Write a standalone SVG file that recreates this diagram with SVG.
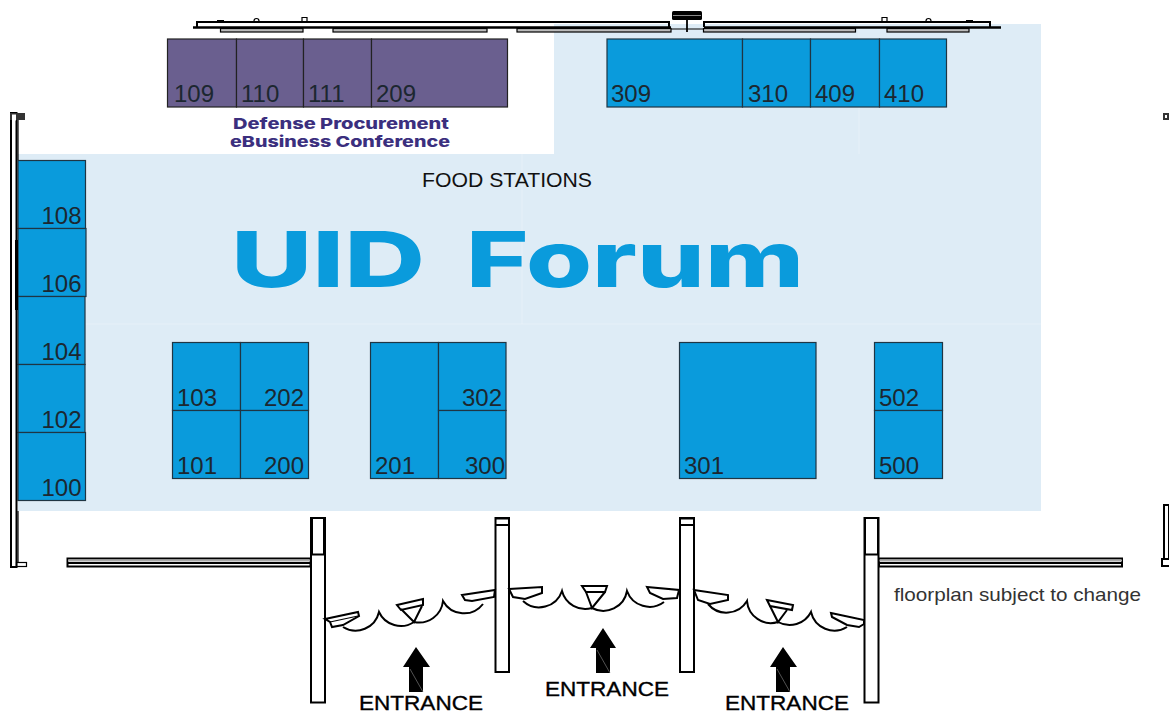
<svg xmlns="http://www.w3.org/2000/svg" width="1169" height="714" viewBox="0 0 1169 714">
<style>
text{font-family:"Liberation Sans",Arial,sans-serif}
.bg{fill:#deecf6}
.b{fill:#0a9bdc;stroke:#1f3543;stroke-width:1.200}
.p{fill:#6a5f8f;stroke:#222;stroke-width:1.200}
.n{font-size:24px;fill:#1c2730}
.w{fill:#fff;stroke:#000;stroke-width:2}
.l{fill:none;stroke:#000;stroke-width:2}
.t{fill:none;stroke:#000;stroke-width:1.200}
.g{fill:#bbb;stroke:#000;stroke-width:1.200}
.e{font-size:21px;fill:#000;stroke:#000;stroke-width:.35}
.d{font-family:Inter,"DejaVu Sans",sans-serif;font-weight:800;font-size:15px;fill:#3b2f7e}
.u{font-family:Inter,"DejaVu Sans",sans-serif;font-weight:800;font-size:77px;fill:#0a9bdc}
.a{fill:#000}
.s{stroke:#777;stroke-width:.7;fill:none}
</style>
<g id="floor">
<rect class="bg" x="554" y="24" width="487" height="131"/>
<rect class="bg" x="18" y="154" width="1023" height="357"/>
<path d="M18 324H1041M859 24V154M522 154V324" fill="none" stroke="#fff" stroke-opacity=".25"/>
</g>
<g id="booth-109"><rect class="p" x="167.500" y="39" width="69" height="68"/><text class="n" x="174" y="102">109</text></g>
<g id="booth-110"><rect class="p" x="236.500" y="39" width="67" height="68"/><text class="n" x="241" y="102">110</text></g>
<g id="booth-111"><rect class="p" x="303.500" y="39" width="68" height="68"/><text class="n" x="308" y="102">111</text></g>
<g id="booth-209"><rect class="p" x="371.500" y="39" width="136" height="68"/><text class="n" x="376" y="102">209</text></g>
<g id="booth-309"><rect class="b" x="607" y="39" width="135.500" height="68"/><text class="n" x="611" y="102">309</text></g>
<g id="booth-310"><rect class="b" x="742.500" y="39" width="68" height="68"/><text class="n" x="748" y="102">310</text></g>
<g id="booth-409"><rect class="b" x="810.500" y="39" width="69" height="68"/><text class="n" x="815" y="102">409</text></g>
<g id="booth-410"><rect class="b" x="879.500" y="39" width="67" height="68"/><text class="n" x="884" y="102">410</text></g>
<g id="booth-108"><rect class="b" x="18" y="160.500" width="67.500" height="68"/><text class="n" x="41.500" y="224">108</text></g>
<g id="booth-106"><rect class="b" x="18" y="228.500" width="68" height="68"/><text class="n" x="41.500" y="292">106</text></g>
<g id="booth-104"><rect class="b" x="18" y="296.500" width="67" height="68"/><text class="n" x="41.500" y="360">104</text></g>
<g id="booth-102"><rect class="b" x="18" y="364.500" width="67" height="68"/><text class="n" x="41.500" y="428">102</text></g>
<g id="booth-100"><rect class="b" x="18" y="432.500" width="67.500" height="68"/><text class="n" x="41.500" y="496">100</text></g>
<g id="booth-103"><rect class="b" x="172.500" y="342.500" width="68" height="68"/><text class="n" x="177" y="405.500">103</text></g>
<g id="booth-202"><rect class="b" x="240.500" y="342.500" width="68" height="68"/><text class="n" x="264" y="405.500">202</text></g>
<g id="booth-101"><rect class="b" x="172.500" y="410.500" width="68" height="68"/><text class="n" x="177" y="473.500">101</text></g>
<g id="booth-200"><rect class="b" x="240.500" y="410.500" width="68" height="68"/><text class="n" x="264" y="473.500">200</text></g>
<g id="booth-201"><rect class="b" x="370.500" y="342.500" width="68" height="136"/><text class="n" x="375" y="473.500">201</text></g>
<g id="booth-302"><rect class="b" x="438.500" y="342.500" width="67.500" height="68"/><text class="n" x="462" y="405.500">302</text></g>
<g id="booth-300"><rect class="b" x="438.500" y="410.500" width="67.500" height="68"/><text class="n" x="465" y="473.500">300</text></g>
<g id="booth-301"><rect class="b" x="679.500" y="342.500" width="136.500" height="136"/><text class="n" x="684" y="473.500">301</text></g>
<g id="booth-502"><rect class="b" x="874.500" y="342.500" width="68" height="68"/><text class="n" x="879" y="405.500">502</text></g>
<g id="booth-500"><rect class="b" x="874.500" y="410.500" width="68" height="68"/><text class="n" x="879" y="473.500">500</text></g>
<g id="walls">
<path class="l" d="M197 27V22H669V27M704 27V22H990V27"/>
<path d="M193 27.500H671M704 27.500H1001" stroke="#000" stroke-width="2.500"/>
<rect class="g" x="220.500" y="28.500" width="82.500" height="3.500"/>
<rect class="g" x="333" y="28.500" width="154" height="3.500"/>
<rect class="g" x="517" y="28.500" width="154" height="3.500"/>
<rect class="g" x="703.500" y="28.500" width="152" height="3.500"/>
<rect class="g" x="887" y="28.500" width="82" height="3.500"/>
<path class="t" d="M254 21a2.500 2.500 0 1 1 5 0M302 21V17.500H307V21M882 21V17.500H887V21M926 21a2.500 2.500 0 1 1 5 0M217 20.500H224M966 20.500H973"/>
<rect x="672" y="11" width="30" height="9" rx="1.500" fill="#000"/>
<path d="M673 15.500H701" stroke="#888" stroke-width="1"/>
<path d="M671 29H704" stroke="#000" stroke-width="1"/>
<path d="M687 19V32" stroke="#000" stroke-width="1.800"/>
<rect class="w" x="11" y="113" width="5.500" height="454" stroke-width="1.800"/>
<path d="M16.500 240V310" stroke="#000" stroke-width="3"/>
<rect x="10" y="113" width="15" height="7" fill="#333"/>
<rect x="12" y="114.500" width="4" height="6" fill="#fff"/>
<path class="t" d="M18 120V160M18 511V563"/>
<rect class="t" x="16.500" y="562.500" width="10" height="4"/>
<rect class="w" x="67.500" y="558.500" width="243" height="8" stroke-width="1.800"/>
<path d="M68 560.500H310" stroke="#aaa" stroke-width="2"/>
<path d="M68 563H310" stroke="#000" stroke-width="1.800"/>
<rect class="w" x="879" y="558.500" width="243" height="8" stroke-width="1.800"/>
<path d="M879 560.500H1122" stroke="#aaa" stroke-width="2"/>
<path d="M879 563H1122" stroke="#000" stroke-width="1.800"/>
<rect x="1163" y="113" width="6" height="7" fill="#333"/>
<rect x="1165" y="115" width="2" height="3" fill="#fff"/>
<rect class="w" x="1164" y="505" width="5" height="54" stroke-width="2.200"/>
<rect class="w" x="1162" y="559" width="8" height="7" stroke-width="1.800"/>
</g>
<g id="labels">
<text class="d" x="233" y="129" textLength="216" lengthAdjust="spacingAndGlyphs">Defense Procurement</text>
<text class="d" x="230" y="147" textLength="220" lengthAdjust="spacingAndGlyphs">eBusiness Conference</text>
<text x="422" y="187" font-size="19.500" fill="#111" textLength="170" lengthAdjust="spacingAndGlyphs">FOOD STATIONS</text>
<text class="u" y="287"><tspan x="231" textLength="194" lengthAdjust="spacingAndGlyphs">UID</tspan> <tspan x="466" textLength="338" lengthAdjust="spacingAndGlyphs">Forum</tspan></text>
<text x="894" y="601" font-size="18.500" fill="#333" textLength="247" lengthAdjust="spacingAndGlyphs">floorplan subject to change</text>
<text class="e" x="359" y="709.500" textLength="124" lengthAdjust="spacingAndGlyphs">ENTRANCE</text>
<text class="e" x="545" y="695.500" textLength="124" lengthAdjust="spacingAndGlyphs">ENTRANCE</text>
<text class="e" x="725" y="709.500" textLength="124" lengthAdjust="spacingAndGlyphs">ENTRANCE</text>
</g>
<g id="pillars">
<rect class="w" x="311" y="518" width="14" height="184.500"/><path class="l" d="M311 554.500H325M312 519V554M324 519V554"/>
<rect class="w" x="495.500" y="518" width="13.500" height="154"/><path class="l" d="M495 525H509M496 518.500H508"/>
<rect class="w" x="680" y="518" width="14" height="154"/><path class="l" d="M680 525H694M680 518.500H694"/>
<rect class="w" x="864.500" y="518" width="14" height="184.500"/><path class="l" d="M864 554.500H878M865 519V554M878 519V554"/>
</g>
<g id="doors">
<path class="w" d="M325 619L358 612L359 616L343 625L332 627L330 622Z"/>
<path class="t" d="M330 622L358 616"/>
<path class="w" d="M397 605L423 599L423 605L401 610Z"/>
<path class="w" d="M462 595L495 590L494 597L472 601L465 600Z"/>
<path class="l" d="M401 609L414 622L422 606"/>
<path class="l" d="M343 627A24 24 0 0 0 379 612A24 24 0 0 0 414 622A24 24 0 0 0 443 601A24 24 0 0 0 483 604"/>
<path class="w" d="M509 589L542 587L542 593L525 599L513 597Z"/>
<path class="w" d="M582 586L607 586L605 592L586 592Z"/>
<path class="w" d="M647 587L679 590L677 598L663 599L650 593Z"/>
<path class="l" d="M586 592L592 608L605 592"/>
<path class="l" d="M523 601A24 24 0 0 0 562 591A24 24 0 0 0 592 608A24 24 0 0 0 627 591A24 24 0 0 0 664 602"/>
<path class="w" d="M694 590L728 595L728 600L710 604L698 600Z"/>
<path class="w" d="M767 600L793 605L792 610L770 606Z"/>
<path class="w" d="M831 613L864 620L864 624L859 627L847 625L832 617Z"/>
<path class="l" d="M770 606L778 622L787 610"/>
<path class="l" d="M708 604A24 24 0 0 0 747 601A24 24 0 0 0 778 622A24 24 0 0 0 811 612A24 24 0 0 0 847 627"/>
</g>
<g id="arrows">
<path class="a" d="M416 647L430 667H423V692H409V667H403Z"/>
<path class="a" d="M603 628L616 648H610V673H596V648H590Z"/>
<path class="a" d="M783 647L797 667H790V692H776V667H770Z"/>
<path class="s" d="M410 669L423 692M597 650L610 673M777 669L790 692"/>
</g>
</svg>
